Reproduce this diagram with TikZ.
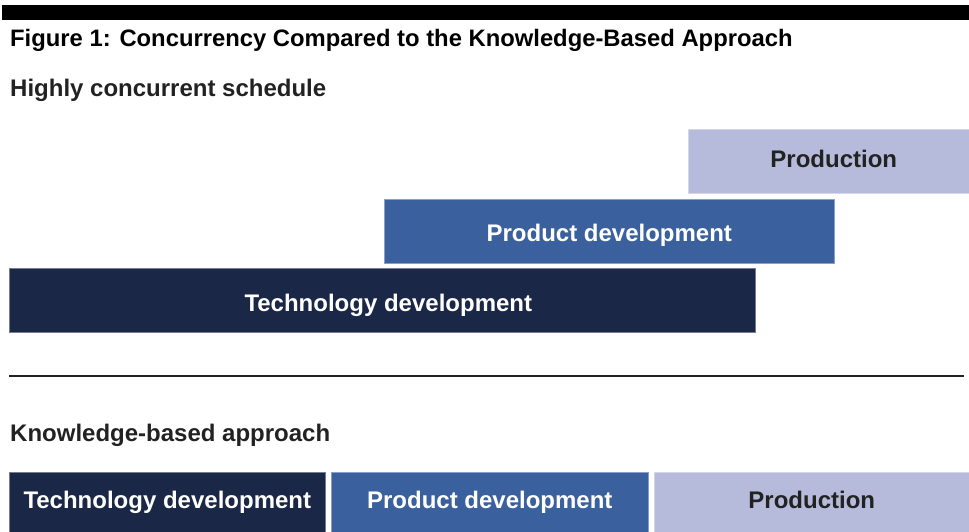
\documentclass[tikz,border=0pt]{standalone}
\usepackage{fontspec}
\setmainfont{Liberation Sans}
\usepackage{tikz}
\definecolor{navy}{HTML}{1A2746}
\definecolor{midblue}{HTML}{3A619E}
\definecolor{lilac}{HTML}{B7BBDB}
\definecolor{inkgray}{HTML}{222222}

\begin{document}
\begin{tikzpicture}[x=1pt,y=-1pt,
  phase/.style={anchor=north west,inner sep=0pt,minimum height=64pt,
    text height=17pt,text depth=0pt,line width=0.6pt,
    font=\fontsize{24}{28}\selectfont\bfseries},
  heading/.style={anchor=base west,inner sep=0pt,text=inkgray,
    font=\fontsize{24}{28}\selectfont\bfseries}]
\useasboundingbox (0,0) rectangle (969,531);
\fill[black] (2,5) rectangle (969,20);
\node[anchor=base west,inner sep=0pt,font=\fontsize{23.8}{28}\selectfont\bfseries] (title) at (10,46) {Figure 1: Concurrency Compared to the Knowledge-Based Approach};
\node[heading] (hcs) at (10,96) {Highly concurrent schedule};
\node[phase,fill=lilac,draw=lilac!60!white,text=inkgray,minimum width=281pt,text depth=4pt] (prodhi) at (688,129) {\hspace*{10pt}Production};
\node[phase,fill=midblue,draw=midblue!60!white,text=white,minimum width=450pt,text height=20pt] (devhi) at (384,199) {Product development};
\node[phase,fill=navy,draw=navy!60!white,text=white,minimum width=746pt,text height=23pt] (techhi) at (9,268) {\hspace*{12pt}Technology development};
\coordinate (sepl) at (9,376);
\coordinate (sepr) at (964,376);
\draw[line width=2pt,inkgray] (sepl) -- (sepr);
\node[heading] (kba) at (10,441) {Knowledge-based approach};
\node[phase,fill=navy,draw=navy!60!white,text=white,minimum width=316pt,minimum height=60pt,text depth=4pt] (techkb) at (9,472) {Technology development};
\node[phase,fill=midblue,draw=midblue!60!white,text=white,minimum width=317pt,minimum height=60pt,text depth=4pt] (devkb) at (331,472) {Product development};
\node[phase,fill=lilac,draw=lilac!60!white,text=inkgray,minimum width=315pt,minimum height=60pt,text depth=4pt] (prodkb) at (654,472) {Production};
\end{tikzpicture}
\end{document}
